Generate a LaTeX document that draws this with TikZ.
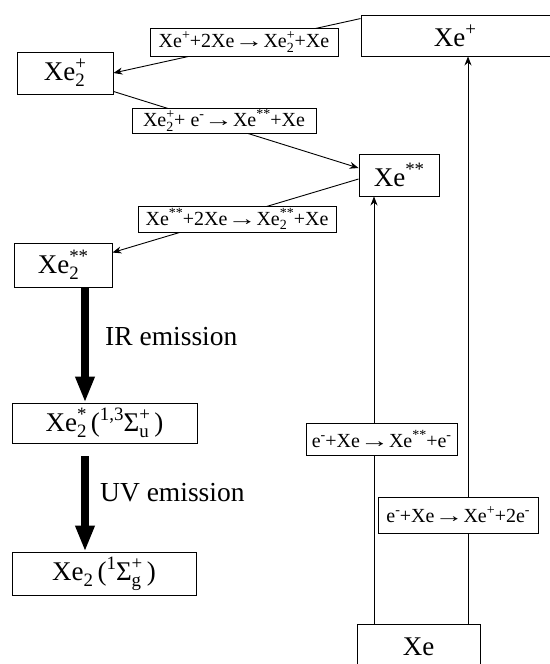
\documentclass[tikz,border=0pt]{standalone}
\usepackage{fontspec}
\setmainfont{LiberationSerif}[Extension=.ttf,UprightFont=*-Regular,BoldFont=*-Bold,ItalicFont=*-Italic]
\usetikzlibrary{arrows.meta,calc}
\newcommand\sps[1]{\raisebox{0.40em}{\scalebox{0.7}{#1}}}
\newcommand\sbs[1]{\raisebox{-0.22em}{\scalebox{0.7}{#1}}}
\newcommand\ssup[2]{\rlap{\sbs{#1}}\sps{#2}}
\newcommand\rarr{\scalebox{1.45}[1]{→}}
\begin{document}
\begin{tikzpicture}[x=1pt,y=-1pt,
  box/.style={draw,line width=0.9pt,inner sep=0pt,align=center,font=\fontsize{27}{31}\selectfont},
  lbl/.style={draw,line width=0.9pt,fill=white,inner sep=0pt,align=center,font=\fontsize{20}{24}\selectfont},
  conn/.style={line width=0.9pt,-{Stealth[length=9pt,width=7pt]}},
  emit/.style={line width=8pt,-{Triangle[length=26pt,width=18pt]}},
  etext/.style={anchor=west,inner sep=0pt,font=\fontsize{27.5}{32}\selectfont}]
\useasboundingbox (0,0) rectangle (549,664);
% main boxes
\node[box,minimum width=194pt,minimum height=41pt] (xep) at (458,35.5) {\hspace*{-6pt}Xe\sps{+}};
\node[box,minimum width=80pt,minimum height=42pt] (xess) at (399,175) {Xe\sps{**}};
\node[box,minimum width=123pt,minimum height=46pt] (xe) at (418.5,647) {Xe};
\node[box,minimum width=96pt,minimum height=42pt] (xe2p) at (65,73) {Xe\ssup{2}{+}};
\node[box,minimum width=98pt,minimum height=44pt] (xe2ss) at (63,265) {Xe\ssup{2}{**}};
\node[box,minimum width=185pt,minimum height=40pt] (xe2s) at (104.5,423) {Xe\ssup{2}{*}\,(\sps{1,3}Σ\ssup{u}{+}\,)};
\node[box,minimum width=184pt,minimum height=43pt] (xe2g) at (104,573.5) {Xe\sbs{2}\,(\sps{1}Σ\ssup{g}{+}\,)};
% helper coordinates
\coordinate (irx) at (85,0);
\coordinate (vx1) at (374,0);
\coordinate (vx2) at (468,0);
% connectors
\draw[conn] ($(xep.north west)+(0,4)$) -- (xe2p.east);
\draw[conn] ($(xe2p.south east)+(0,-3)$) -- ($(xess.west)+(0,-7)$);
\draw[conn] ($(xess.west)+(0,4)$) -- ($(xe2ss.north east)+(0,10)$);
\draw[conn] (xe.north -| vx1) -- (xess.south -| vx1);
\draw[conn] (xe.north -| vx2) -- (xep.south -| vx2);
\draw[emit] (xe2ss.south -| irx) -- (xe2s.north -| irx);
\draw[emit] ($(xe2s.south -| irx)+(0,13)$) -- (xe2g.north -| irx);
% reaction labels
\node[lbl,minimum width=188pt,minimum height=28pt] (l1) at (244,42) {Xe\sps{+}+2Xe\rarr Xe\ssup{2}{+}+Xe};
\node[lbl,minimum width=184pt,minimum height=25pt] (l2) at (224,120.5) {Xe\ssup{2}{+}+ e\sps{-}\rarr Xe\sps{**}+Xe};
\node[lbl,minimum width=198pt,minimum height=26pt] (l3) at (237,219) {Xe\sps{**}+2Xe\rarr Xe\ssup{2}{**}+Xe};
\node[lbl,minimum width=151pt,minimum height=32pt] (l4) at (381.5,439) {e\sps{-}+Xe\rarr Xe\sps{**}+e\sps{-}};
\node[lbl,minimum width=160pt,minimum height=36pt] (l5) at (458,515) {e\sps{-}+Xe\rarr Xe\sps{+}+2e\sps{-}};
% emission texts
\node[etext] (ir) at (105,337) {IR emission};
\node[etext] (uv) at (100,493) {UV emission};
\end{tikzpicture}
\end{document}
